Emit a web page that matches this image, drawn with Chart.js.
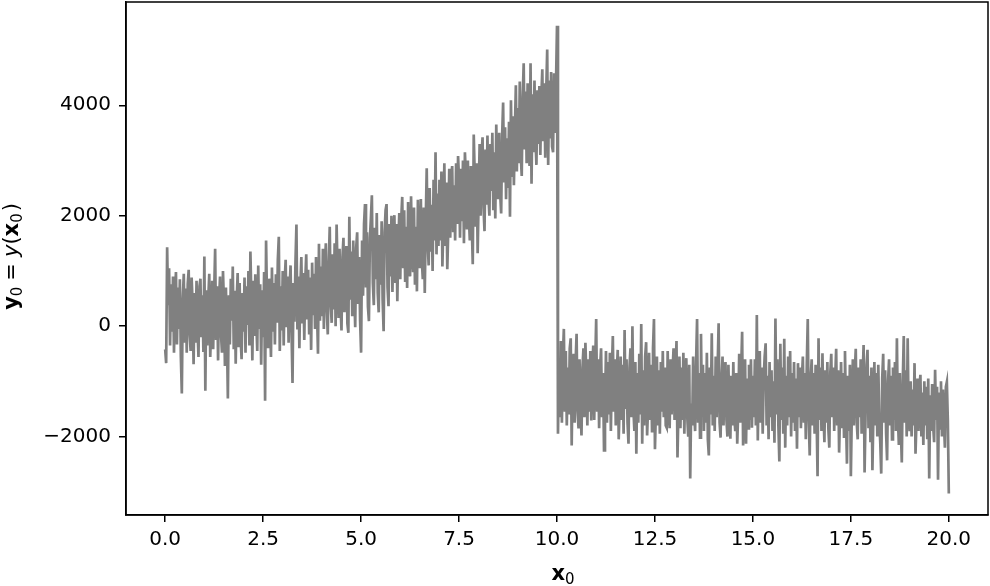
<!DOCTYPE html>
<html>
<head>
<meta charset="utf-8">
<script src="https://cdn.jsdelivr.net/npm/chart.js@4.4.1/dist/chart.umd.min.js"></script>
<style>
  body { margin: 0; background: #fff; }
  canvas { display: block; }
</style>
</head>
<body>
<canvas id="signalChart" width="990" height="586"></canvas>
<script>
// sample spacing along x0
const xStep = 0.025;

// x0 = 0.000 .. 9.975 (rising part), 40 samples per unit
const risingValues = [
  -420, -670, 1430, 380, 1050, -350, 760, -100, 900, -480, 550, 980, -330, 700, -50, 850, -560, -1220, 500, 950,
  -300, 680, -480, 760, 1020, -150, -450, 880, 420, -690, 600, -300, 820, -60, -560, 720, 860, -200, 560, -470,
  1260, -1170, 650, -350, 500, 950, -560, 30, 820, -420, 600, 1400, -250, 720, -620, 480, 900, -150, -480, 1000,
  420, -720, 700, -120, -1310, 560, -330, 860, 100, 1080, -420, 640, -680, 470, 960, -380, 780, -200, -600, 600,
  -100, 880, -480, 720, 20, 1000, -350, 1350, 500, -620, 820, -180, 940, 120, -450, 1100, -50, 760, -700, 650,
  -200, 980, -1350, 1550, 450, -400, 860, 150, -560, 1060, -100, 780, -330, 940, 60, 1200, 1620, -450, 720, -80,
  1000, -350, 820, 1200, -20, 900, -300, 700, 1100, -120, -1030, 780, 80, 1150, 1840, -60, 900, -400, 750, 1250,
  50, 960, -250, 820, 1300, 120, 1020, -150, 880, -430, 1150, 200, 950, -50, 1250, 280, -500, 1490, 100, 1080,
  180, 1400, -50, 1050, 1500, 280, -150, 1150, 1800, 400, 60, 1300, 300, 1500, 0, 1840, 1000, 150, 1400, 380,
  -80, 1250, 1600, 250, 1100, 1450, 50, -120, 1980, 480, 1350, 180, 1550, 620, -20, 1420, 1700, 400, 1250, 100,
  -480, 1550, 550, 1850, 2210, 700, 1700, 350, 90, 1600, 1950, 2370, 780, 380, 1780, 850, 2050, 600, 250, 1650,
  750, 1900, 480, -90, 1700, 2100, 2210, 700, 360, 1850, 900, 2000, 620, 1600, 2010, 780, 1850, 450, 1500, 2050,
  850, 1950, 2340, 1050, 2100, 800, 1800, 690, 2250, 1150, 900, 2350, 1350, 1000, 2150, 750, 1800, 630, 2290, 1400,
  1050, 2300, 1200, 850, 2150, 600, 1900, 2860, 1500, 1100, 2500, 1350, 2200, 1000, 2650, 1550, 3150, 1300, 2400, 1450,
  2650, 1550, 2800, 1080, 1850, 2950, 1450, 2600, 1030, 1750, 2850, 1600, 2700, 2900, 1700, 2550, 1550, 2950, 1850, 3080,
  2650, 1600, 2850, 1900, 3000, 1500, 3150, 2700, 1750, 3000, 2000, 1550, 2900, 1850, 1120, 3470, 2750, 1800, 2950, 1320,
  2300, 3300, 2000, 3100, 3420, 2150, 1720, 3200, 2200, 3450, 2350, 2000, 3300, 2450, 3500, 2100, 3150, 1950, 3650, 2650,
  2300, 3500, 2400, 2040, 3450, 4050, 2600, 3600, 2300, 3400, 2500, 3700, 1980, 4090, 2700, 3800, 2550, 3550, 4360, 2800,
  3950, 2950, 4430, 3100, 2720, 4150, 4760, 3200, 4250, 2950, 4400, 3300, 2900, 4760, 2580, 4200, 3150, 4450, 3400, 2920,
  4270, 3300, 4350, 3100, 4150, 4650, 3350, 4400, 3050, 4250, 5010, 2920, 4450, 3400, 4600, 3250, 3150, 4580, 3500, 4400
];

// x0 = 10.000 (spike before the drop)
const spikeValue = 5440;

// x0 = 10.025 .. 20.000 (after the drop)
const droppedValues = [
  -1950, -650, -1650, -270, -1750, -550, -50, -1550, -450, -1800, -750, -1600, -400, -220, -2160, -800, -500, -1750, -650, -140,
  -1550, -1850, -600, -1450, -1980, -750, -400, -1650, -300, -900, -1800, -600, -1550, -450, -1710, -800, -350, -1700, -700, 130,
  -1550, -600, -1850, -750, -400, -1650, -850, -2250, -1450, -450, -1750, -650, -1600, -480, -1900, -800, -180, -1550, -600, -1800,
  -850, -430, -2050, -1400, -550, -1700, -700, -1950, -70, -1500, -600, -1750, -2130, -750, -400, -1650, 0, -1500, -1900, -650,
  -2310, -850, -1750, -500, -1600, 40, -2130, -800, -1800, -550, -290, -1980, -1450, -480, -1700, -700, -1900, -400, 130, -2230,
  -1500, -550, -1800, -800, -1950, -650, -1550, -450, -1650, -750, -1800, -1840, -450, -1450, -1850, -600, -1600, -800, -400, -1700,
  -850, -270, -2380, -1500, -550, -1850, -750, -1700, -480, -1950, -950, -580, -1650, -2000, -700, -2760, -1400, -1800, -550, -1550,
  -1900, -650, 130, -1750, -850, -2020, -140, -1600, -700, -1900, -850, -1750, -480, -2050, -2340, -750, -1600, -130, -1800, -900,
  -1900, -550, -1650, -750, 50, -1750, -2020, -950, -550, -1800, -850, -650, -1700, -2000, -700, -1600, -2040, -900, -1800, -650,
  -1650, -1900, -850, -2130, -1550, -500, -1750, -800, -100, -2160, -1600, -600, -2130, -950, -1850, -700, -1700, -600, -1840, -900,
  -1650, -600, -1800, 200, -2070, -850, -450, -1750, -750, -1950, -950, -550, -310, -1800, -900, -2050, -650, -1650, -800, -1900,
  -1000, -2110, 140, -1600, -600, -1800, -2450, -320, -1700, -750, -1950, -230, -2200, -900, -1800, -550, -1650, -450, -2000, -850,
  -1750, -650, -1900, -950, -2220, -670, -1650, -750, -1850, -950, -550, -1750, -850, -2050, -700, 130, -1700, -2340, -950, -600,
  -1800, -850, -1950, -700, -1600, -2720, -220, -1700, -750, -1900, -490, -1550, -2100, -800, -1750, -650, -1850, -2200, -850, -500,
  -1650, -750, -1900, -950, -410, -1800, -800, -2290, -1550, -650, -1850, -850, -2000, -450, -1600, -2490, -900, -1900, -700, -2720,
  -1550, -600, -1800, -850, -410, -1750, -2050, -750, -1650, -600, -1950, -950, -340, -2650, -1600, -700, -430, -1850, -900, -2100,
  -750, -2610, -1600, -650, -1800, -850, -2000, -700, -1700, -2100, -2670, -950, -500, -1750, -800, -1950, -2430, -1000, -600, -1800,
  -900, -2050, -750, -1700, -650, -1900, -220, -1650, -2150, -850, -1850, -2470, -1000, -180, -1750, -800, -2000, -220, -1650, -1900,
  -1000, -2000, -1150, -1800, -670, -2310, -1700, -950, -1900, -1100, -880, -2000, -1200, -2150, -1000, -1800, -1100, -2050, -950, -2760,
  -1250, -1900, -1050, -1800, -2100, -790, -1700, -1100, -2780, -1200, -1850, -1000, -2000, -1150, -1750, -2200, -1100, -1010, -1700, -3030
];

const xTicks = [0, 2.5, 5, 7.5, 10, 12.5, 15, 17.5, 20];
const yTicks = [-2000, 0, 2000, 4000];

const allValues = risingValues.concat([spikeValue], droppedValues);
const points = allValues.map((v, i) => ({ x: i * xStep, y: v }));

const FONT = 'DejaVu Sans';

// draws a small mathtext-like label made of parts with different fonts
// a part is either {t, font, sub} or {gap} (extra space in px)
function drawMath(ctx, parts, cx, cy, vertical) {
  ctx.save();
  let total = 0;
  parts.forEach(p => {
    if (p.gap) {
      p.w = p.gap;
    } else {
      ctx.font = p.font;
      p.w = ctx.measureText(p.t).width;
    }
    total += p.w;
  });
  ctx.translate(cx, cy);
  if (vertical) ctx.rotate(-Math.PI / 2);
  ctx.fillStyle = '#000';
  ctx.textBaseline = 'alphabetic';
  let x = -total / 2;
  parts.forEach(p => {
    if (!p.gap) {
      ctx.font = p.font;
      ctx.fillText(p.t, x, p.sub ? 4 : 0);
    }
    x += p.w;
  });
  ctx.restore();
}

const framePlugin = {
  id: 'frame',
  afterDraw(chart) {
    const { ctx, chartArea } = chart;
    ctx.save();
    ctx.strokeStyle = '#000';
    ctx.lineWidth = 1.5;
    ctx.strokeRect(chartArea.left, chartArea.top, chartArea.right - chartArea.left, chartArea.bottom - chartArea.top);
    ctx.restore();

    const big = '21px "' + FONT + '"';
    const bold = 'bold 21px "' + FONT + '"';
    const ital = 'italic 21px "' + FONT + '"';
    const small = '15px "' + FONT + '"';
    drawMath(ctx, [
      { t: 'x', font: bold },
      { t: '0', font: small, sub: true }
    ], (chartArea.left + chartArea.right) / 2 + 6, 580, false);
    drawMath(ctx, [
      { t: 'y', font: bold },
      { t: '0', font: small, sub: true },
      { gap: 6 },
      { t: '=', font: big },
      { gap: 6 },
      { t: 'y', font: ital },
      { t: '(', font: big },
      { t: 'x', font: bold },
      { t: '0', font: small, sub: true },
      { gap: 2 },
      { t: ')', font: big }
    ], 18, (chartArea.top + chartArea.bottom) / 2 - 2, true);
  }
};

const ctx = document.getElementById('signalChart').getContext('2d');

const signalChart = new Chart(ctx, {
  type: 'line',
  data: {
    datasets: [{
      data: points,
      borderColor: '#808080',
      borderWidth: 2.7,
      pointRadius: 0,
      tension: 0,
      fill: false
    }]
  },
  options: {
    responsive: false,
    animation: false,
    devicePixelRatio: 1,
    layout: { padding: { top: 2, right: 2, left: 0, bottom: 0 } },
    plugins: {
      legend: { display: false },
      tooltip: { enabled: false }
    },
    scales: {
      x: {
        type: 'linear',
        min: -1,
        max: 21,
        afterBuildTicks: s => { s.ticks = xTicks.map(v => ({ value: v })); },
        afterFit: s => { s.height = 71; s.paddingLeft = 0; s.paddingRight = 0; },
        grid: { drawOnChartArea: false, drawTicks: true, tickLength: 7, color: '#000', lineWidth: 1.5 },
        border: { display: true, color: '#000', width: 1.5 },
        ticks: {
          color: '#000',
          padding: 6,
          maxRotation: 0,
          font: { family: FONT, size: 20 },
          callback: v => v.toFixed(1)
        }
      },
      y: {
        min: -3420,
        max: 5870,
        afterBuildTicks: s => { s.ticks = yTicks.map(v => ({ value: v })); },
        afterFit: s => { s.width = 126; s.paddingTop = 0; s.paddingBottom = 0; },
        grid: { drawOnChartArea: false, drawTicks: true, tickLength: 7, color: '#000', lineWidth: 1.5 },
        border: { display: true, color: '#000', width: 1.5 },
        ticks: {
          color: '#000',
          padding: 8,
          font: { family: FONT, size: 20 },
          callback: v => String(v).replace('-', '\u2212')
        }
      }
    }
  },
  plugins: [framePlugin]
});
</script>
</body>
</html>
